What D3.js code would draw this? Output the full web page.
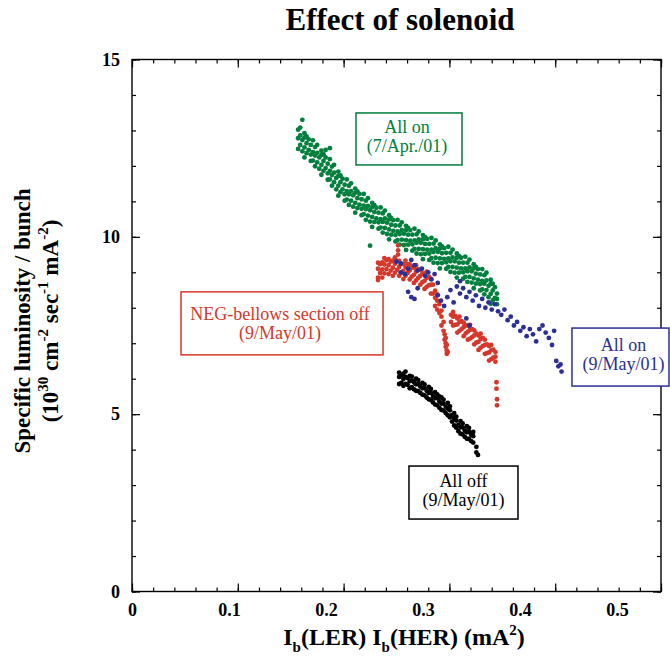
<!DOCTYPE html>
<html>
<head>
<meta charset="utf-8">
<script src="https://cdnjs.cloudflare.com/ajax/libs/d3/7.8.5/d3.min.js"></script>
<style>
  body { margin: 0; background: #fff; }
  svg { display: block; font-family: "Liberation Serif", "Times New Roman", serif; }
</style>
</head>
<body>
<div class="chart"></div>
<script>

// tick values and labels
var xTickValues = [0, 0.1, 0.2, 0.3, 0.4, 0.5];
var xTickLabels = ['0', '0.1', '0.2', '0.3', '0.4', '0.5'];
var yTickValues = [0, 5, 10, 15];
var yTickLabels = ['0', '5', '10', '15'];

// each entry: [Ib(LER)*Ib(HER), [specific luminosity values read at that x]]
var allOnApr = [
  [0.157, [12.48, 12.78, 13.02]], [0.159, [12.59, 12.86, 13.08]],
  [0.161, [12.41, 12.73, 13.3]], [0.163, [12.24, 12.52, 12.8, 12.92]],
  [0.165, [12.36, 12.64, 12.83]], [0.167, [12.45, 12.75]],
  [0.169, [12.14, 12.32, 12.59]], [0.171, [12.15, 12.39, 12.72]],
  [0.173, [11.99, 12.29, 12.53]], [0.175, [12.1, 12.37, 12.59]],
  [0.177, [11.92, 12.24]], [0.179, [11.75, 12.03, 12.31, 12.43]],
  [0.181, [11.86, 12.14, 12.33]], [0.183, [11.94, 12.24, 12.45]],
  [0.185, [11.61, 11.79, 12.06]], [0.187, [11.62, 11.86, 12.19, 12.5]],
  [0.189, [11.44, 11.74, 11.98]], [0.191, [11.54, 11.81, 12.03]],
  [0.193, [11.34, 11.66]], [0.195, [11.16, 11.44, 11.72, 11.84]],
  [0.197, [11.26, 11.54, 11.73]], [0.199, [11.34, 11.64]],
  [0.201, [11.02, 11.2, 11.47]], [0.203, [11.05, 11.29, 11.62]],
  [0.205, [10.9, 11.2, 11.44]], [0.207, [11.02, 11.29, 11.51]],
  [0.209, [10.85, 11.17]], [0.211, [10.68, 10.96, 11.24, 11.36]],
  [0.213, [10.81, 11.09, 11.28]], [0.215, [10.91, 11.21]],
  [0.217, [10.61, 10.79, 11.06]], [0.219, [10.64, 10.88, 11.21]],
  [0.221, [10.48, 10.78, 11.02]], [0.223, [10.6, 10.87, 11.09]],
  [0.225, [9.75, 10.43, 10.75]], [0.227, [10.28, 10.56, 10.84, 10.96]],
  [0.229, [10.42, 10.7, 10.89]], [0.231, [10.52, 10.82]],
  [0.233, [10.23, 10.41, 10.68]], [0.235, [10.26, 10.5, 10.83]],
  [0.237, [10.12, 10.42, 10.66]], [0.239, [10.25, 10.52, 10.74]],
  [0.241, [10.08, 10.4]], [0.243, [9.93, 10.21, 10.49, 10.61]],
  [0.245, [10.06, 10.34, 10.53]], [0.247, [10.17, 10.47]],
  [0.249, [9.87, 10.05, 10.32]], [0.251, [9.91, 10.15, 10.48]],
  [0.253, [9.78, 10.08, 10.32]], [0.255, [9.92, 10.19, 10.41]],
  [0.257, [9.77, 10.09]], [0.259, [9.63, 9.91, 10.19, 10.31]],
  [0.261, [9.78, 10.06, 10.25]], [0.263, [9.89, 10.19]],
  [0.265, [9.61, 9.79, 10.06]], [0.267, [9.66, 9.9, 10.23]],
  [0.269, [9.53, 9.83, 10.07]], [0.271, [9.66, 9.93, 10.15]],
  [0.273, [9.51, 9.83]], [0.275, [9.37, 9.65, 9.93, 10.05]],
  [0.277, [9.52, 9.8, 9.99]], [0.279, [9.64, 9.94]],
  [0.281, [9.35, 9.53, 9.8]], [0.283, [9.4, 9.64, 9.97]],
  [0.285, [9.27, 9.57, 9.81]], [0.287, [9.41, 9.68, 9.9]],
  [0.289, [9.26, 9.58]], [0.291, [9.11, 9.39, 9.67, 9.79]],
  [0.293, [9.26, 9.54, 9.73]], [0.295, [9.38, 9.68]],
  [0.297, [9.1, 9.28, 9.55]], [0.299, [9.15, 9.39, 9.72]],
  [0.301, [9.01, 9.31, 9.55]], [0.303, [9.15, 9.42, 9.64]],
  [0.305, [8.99, 9.31]], [0.307, [8.85, 9.13, 9.41, 9.53]],
  [0.309, [8.99, 9.27, 9.46]], [0.311, [9.11, 9.41]],
  [0.313, [8.82, 9.0, 9.27]], [0.315, [8.87, 9.11, 9.44]],
  [0.317, [8.73, 9.03, 9.27]], [0.319, [8.87, 9.14, 9.36]],
  [0.321, [8.71, 9.03]], [0.323, [8.55, 8.83, 9.11, 9.23]],
  [0.325, [8.68, 8.96, 9.15]], [0.327, [8.79, 9.09]],
  [0.329, [8.49, 8.67, 8.94]], [0.331, [8.52, 8.76, 9.09]],
  [0.333, [8.38, 8.68, 8.92]], [0.335, [8.5, 8.77, 8.99]],
  [0.337, [8.3, 8.62]], [0.339, [8.11, 8.39, 8.67, 8.79]],
  [0.341, [8.21, 8.49, 8.68]], [0.343, [8.28, 8.58]],
  [0.345, [8.1, 8.25, 8.4]]
];

var negOff = [
  [0.2325, [8.78, 8.85, 9.1, 9.27]], [0.2345, [8.98, 9.23]],
  [0.2365, [8.85, 9.08, 9.28]], [0.2385, [8.97, 9.22, 9.4]],
  [0.2405, [9.09, 9.34]], [0.2425, [8.95, 9.2, 9.37]],
  [0.2445, [9.05, 9.3]], [0.2465, [8.9, 9.13, 9.33]],
  [0.2485, [8.99, 9.24, 9.42]], [0.2505, [9.07, 9.32]],
  [0.2515, [9.5, 9.62, 9.76]], [0.2525, [8.9, 9.15, 9.32]],
  [0.2545, [8.98, 9.23]], [0.2565, [8.81, 9.04, 9.24]],
  [0.2585, [8.9, 9.15, 9.33]], [0.2605, [8.98, 9.23]],
  [0.2625, [8.8, 9.05, 9.22]], [0.2645, [8.88, 9.13]],
  [0.2665, [8.7, 8.93, 9.13]], [0.2685, [8.77, 9.02, 9.2]],
  [0.2705, [8.84, 9.09]], [0.2725, [8.65, 8.9, 9.07]],
  [0.2745, [8.72, 8.97]], [0.2765, [8.53, 8.76, 8.96]],
  [0.2785, [8.59, 8.84, 9.02]], [0.2805, [8.63, 8.88]],
  [0.2825, [8.4, 8.65, 8.82]], [0.2845, [8.4, 8.65]],
  [0.2865, [8.05, 8.28, 8.48]], [0.2885, [7.95, 8.2, 8.38]],
  [0.2905, [7.85, 8.1]], [0.2925, [7.5, 7.75, 7.92]],
  [0.2945, [7.35, 7.6]], [0.2955, [7.1, 7.25]],
  [0.2965, [6.9, 7.0, 7.15]], [0.2975, [6.7, 6.8, 6.95]],
  [0.2985, [6.75]],
  [0.3015, [7.6, 7.8]], [0.3035, [7.5, 7.75, 7.88]],
  [0.3055, [7.52, 7.77]], [0.3075, [7.3, 7.53, 7.7]],
  [0.3095, [7.35, 7.6, 7.75]], [0.3115, [7.4, 7.62]],
  [0.3135, [7.2, 7.45, 7.58]], [0.3155, [7.28, 7.5]],
  [0.3175, [7.1, 7.33, 7.5]], [0.3195, [7.13, 7.38, 7.52]],
  [0.3215, [7.17, 7.4]], [0.3235, [6.97, 7.22, 7.36]],
  [0.3255, [7.02, 7.27]], [0.3275, [6.81, 7.04, 7.22]],
  [0.3295, [6.87, 7.12, 7.27]], [0.3315, [6.92, 7.15]],
  [0.3335, [6.7, 6.95, 7.1]], [0.3355, [6.72, 6.97]],
  [0.3375, [6.51, 6.74, 6.92]], [0.3395, [6.55, 6.8, 6.95]],
  [0.3415, [6.59, 6.82]], [0.3435, [6.48, 6.62, 6.75]],
  [0.3445, [5.72, 5.9]], [0.345, [5.25, 5.42]]
];

var allOnMay = [
  [0.250, [9.3]], [0.254, [9.0, 9.25]], [0.258, [8.95]], [0.261, [9.1, 8.45]],
  [0.264, [9.35, 8.3]], [0.267, [9.2, 8.25]], [0.270, [9.05, 8.55]], [0.274, [9.1]],
  [0.277, [8.9]], [0.280, [9.0]], [0.283, [8.8]], [0.286, [8.95]],
  [0.289, [8.7, 8.35]], [0.292, [8.2]], [0.295, [8.05]], [0.298, [8.3]],
  [0.301, [8.5]], [0.304, [8.15]], [0.307, [8.6]], [0.310, [8.75, 8.4]],
  [0.313, [8.55]], [0.316, [8.3, 7.7]], [0.319, [7.5, 8.45]], [0.322, [8.2]],
  [0.325, [8.35]], [0.328, [8.05]], [0.331, [8.25]], [0.334, [8.0]],
  [0.337, [8.15]], [0.340, [7.95]], [0.343, [8.1]], [0.346, [7.9]],
  [0.349, [7.8]], [0.352, [7.95]], [0.355, [7.65]], [0.358, [7.75]],
  [0.361, [7.5]], [0.364, [7.6]], [0.367, [7.35]], [0.370, [7.45]],
  [0.373, [7.2]], [0.376, [7.4]], [0.379, [7.25]], [0.382, [7.05]],
  [0.385, [7.4]], [0.388, [7.5]], [0.391, [7.3]], [0.394, [7.15]],
  [0.397, [6.95]], [0.399, [7.35]], [0.401, [6.5]], [0.403, [6.35]],
  [0.405, [6.4]], [0.406, [6.2]]
];

var allOff = [
  [0.2525, [5.85, 6.05, 6.17]], [0.2545, [5.88, 6.1]],
  [0.2565, [5.8, 5.99, 6.14]], [0.2585, [5.85, 6.05, 6.2]],
  [0.2605, [5.83, 6.02]], [0.2625, [5.73, 5.93, 6.08]],
  [0.2645, [5.76, 5.95, 6.06]], [0.2665, [5.7, 5.9]],
  [0.2685, [5.66, 5.84, 6.0]], [0.2705, [5.65, 5.85, 5.96]],
  [0.2725, [5.6, 5.78]], [0.2745, [5.55, 5.73, 5.88]],
  [0.2765, [5.53, 5.74, 5.84]], [0.2785, [5.47, 5.66]],
  [0.2805, [5.42, 5.6, 5.77]], [0.2825, [5.4, 5.6, 5.71]],
  [0.2845, [5.33, 5.51]], [0.2865, [5.27, 5.45, 5.62]],
  [0.2885, [5.25, 5.45, 5.56]], [0.2905, [5.18, 5.36, 5.5]],
  [0.2925, [5.12, 5.3, 5.47]], [0.2945, [5.1, 5.3, 5.41]],
  [0.2965, [5.03, 5.21]], [0.2985, [4.97, 5.15, 5.32]],
  [0.3005, [4.91, 5.11, 5.22]], [0.3025, [4.79, 4.97]],
  [0.3045, [4.68, 4.86, 5.03]], [0.3065, [4.62, 4.82, 4.93]],
  [0.3085, [4.52, 4.7]], [0.3105, [4.45, 4.63, 4.8]],
  [0.3125, [4.43, 4.63, 4.74]], [0.3145, [4.36, 4.54]],
  [0.3165, [4.31, 4.49, 4.66]], [0.3185, [4.3, 4.5, 4.61]],
  [0.3205, [4.24, 4.42]], [0.3225, [4.2, 4.38, 4.5]],
  [0.3255, [3.92, 4.08]], [0.327, [3.85]]
];

var seriesData = [allOnApr, negOff, allOnMay, allOff];
var seriesColors = ['#007f3d', '#d5382b', '#2b2f96', '#000000'];
var seriesNotes = [
  ['All on', '(7/Apr./01)'],
  ['NEG-bellows section off', '(9/May/01)'],
  ['All on', '(9/May/01)'],
  ['All off', '(9/May/01)']
];

// note boxes: centre in data units, size in px
var noteLayout = [
  { x: 0.2618, y: 12.76, w: 106, h: 52, dx: -2, dy: 0 },
  { x: 0.1418, y: 7.56, w: 202, h: 63, dx: -2, dy: 3 },
  { x: 0.4617, y: 6.61, w: 97, h: 58, dx: 3, dy: 0 },
  { x: 0.3133, y: 2.79, w: 109, h: 53, dx: 0, dy: 0 }
];

var svg = d3.select('.chart').append('svg')
            .attr('width', 670)
            .attr('height', 668);

var x = d3.scaleLinear().domain([0, 0.5]).range([132, 661]);
// the tick labels sit on a slightly shorter run than the ticks themselves
var xLabel = d3.scaleLinear().domain([0, 0.5]).range([132, 617]);
var y = d3.scaleLinear().domain([0, 15]).range([591.5, 59.5]);

var xMinor = d3.range(0, 0.501, 0.02);
var yMinor = d3.range(0, 15.01, 1);

//draws inward ticks on one side of the frame
var ticks = function(axis, values, size, tx, ty){
  svg.append('g')
     .attr('transform', 'translate(' + tx + ',' + ty + ')')
     .call(axis.tickValues(values).tickSize(-size).tickFormat(''))
     .call(function(g){ g.select('.domain').remove(); })
     .selectAll('line').attr('stroke', '#000').attr('stroke-width', 1.2);
}

ticks(d3.axisBottom(x), xTickValues, 8, 0, y(0));
ticks(d3.axisBottom(x), xMinor, 4, 0, y(0));
ticks(d3.axisTop(x), xTickValues, 8, 0, y(15));
ticks(d3.axisTop(x), xMinor, 4, 0, y(15));
ticks(d3.axisLeft(y), yTickValues, 8, x(0), 0);
ticks(d3.axisLeft(y), yMinor, 4, x(0), 0);
ticks(d3.axisRight(y), yTickValues, 8, x(0.5), 0);
ticks(d3.axisRight(y), yMinor, 4, x(0.5), 0);

svg.append('rect')
   .attr('x', x(0)).attr('y', y(15))
   .attr('width', x(0.5) - x(0)).attr('height', y(0) - y(15))
   .attr('fill', 'none').attr('stroke', '#000').attr('stroke-width', 1.4);

// tick labels
var xl = svg.append('g')
            .attr('transform', 'translate(0,' + y(0) + ')')
            .call(d3.axisBottom(xLabel).tickValues(xTickValues).tickSize(0).tickPadding(12)
                    .tickFormat(function(d, i){ return xTickLabels[i]; }));
xl.select('.domain').remove();

var yl = svg.append('g')
            .attr('transform', 'translate(' + x(0) + ',0)')
            .call(d3.axisLeft(y).tickValues(yTickValues).tickSize(0).tickPadding(12)
                    .tickFormat(function(d, i){ return yTickLabels[i]; }));
yl.select('.domain').remove();

svg.selectAll('.tick text')
   .attr('font-family', '"Liberation Serif", "Times New Roman", serif')
   .attr('font-size', 18)
   .attr('font-weight', 'bold')
   .attr('fill', '#000');

// data points
seriesData.forEach(function(series, i){
  var pts = [];
  series.forEach(function(col){
    col[1].forEach(function(v){ pts.push([col[0], v]); });
  });
  svg.append('g').selectAll('circle')
     .data(pts)
     .enter()
     .append('circle')
       .attr('cx', function(d){ return x(d[0]); })
       .attr('cy', function(d){ return y(d[1]); })
       .attr('r', 2.4)
       .attr('fill', seriesColors[i]);
});

// note boxes
noteLayout.forEach(function(n, i){
  var cx = x(n.x), cy = y(n.y);
  var g = svg.append('g');
  g.append('rect')
   .attr('x', cx - n.w / 2).attr('y', cy - n.h / 2)
   .attr('width', n.w).attr('height', n.h)
   .attr('fill', '#fff')
   .attr('stroke', seriesColors[i]).attr('stroke-width', 1.5);
  g.selectAll('text')
   .data(seriesNotes[i])
   .enter()
   .append('text')
     .attr('x', cx + n.dx)
     .attr('y', function(d, j){ return cy + n.dy - 6 + j * 19; })
     .attr('text-anchor', 'middle')
     .attr('font-size', 18)
     .attr('fill', seriesColors[i])
     .text(function(d){ return d; });
});

// titles
svg.append('text')
   .attr('x', 400).attr('y', 30)
   .attr('text-anchor', 'middle')
   .attr('font-size', 31).attr('font-weight', 'bold')
   .text('Effect of solenoid');

var xt = svg.append('text')
            .attr('x', 404).attr('y', 645)
            .attr('text-anchor', 'middle')
            .attr('font-size', 24).attr('font-weight', 'bold');
xt.append('tspan').text('I');
xt.append('tspan').attr('font-size', 15).attr('dy', 7).text('b');
xt.append('tspan').attr('dy', -7).text('(LER) I');
xt.append('tspan').attr('font-size', 15).attr('dy', 7).text('b');
xt.append('tspan').attr('dy', -7).text('(HER) (mA');
xt.append('tspan').attr('font-size', 15).attr('dy', -10).text('2');
xt.append('tspan').attr('dy', 10).text(')');

svg.append('text')
   .attr('transform', 'translate(30,321) rotate(-90)')
   .attr('text-anchor', 'middle')
   .attr('font-size', 23).attr('font-weight', 'bold')
   .text('Specific luminosity / bunch');

var yt = svg.append('text')
            .attr('transform', 'translate(58,321) rotate(-90)')
            .attr('text-anchor', 'middle')
            .attr('font-size', 23).attr('font-weight', 'bold');
var ySup = [['(10', '30'], [' cm', '-2'], [' sec', '-1'], [' mA', '-2']];
ySup.forEach(function(p, i){
  yt.append('tspan').attr('dy', i ? 10 : 0).text(p[0]);
  yt.append('tspan').attr('font-size', 15).attr('dy', -10).text(p[1]);
});
yt.append('tspan').attr('dy', 10).text(')');

</script>
</body>
</html>
